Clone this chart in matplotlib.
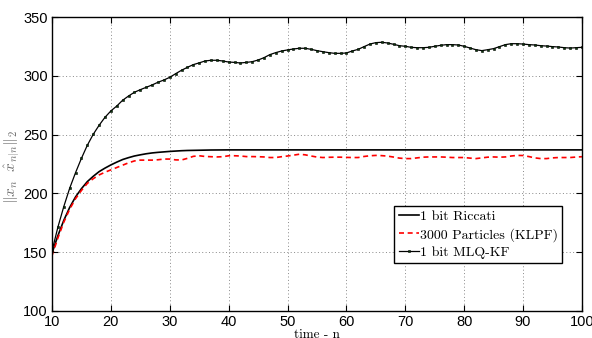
import numpy as np
import matplotlib
matplotlib.use("Agg")
import matplotlib.pyplot as plt

# ---- data ----
n_steps = list(range(10, 101))

mlq_kf = [
    151.0, 171.2, 188.7, 204.3, 217.6, 229.8, 240.9, 250.2, 257.9, 264.7,   # 10-19
    270.1, 274.3, 279.2, 282.8, 286.0, 288.2, 290.2, 292.2, 294.5, 296.4,   # 20-29
    298.7, 301.8, 304.7, 307.2, 309.5, 311.0, 312.6, 313.2, 313.2, 312.6,   # 30-39
    311.7, 311.4, 310.9, 311.4, 312.0, 313.4, 315.4, 318.0, 319.7, 321.1,   # 40-49
    322.0, 322.8, 323.4, 323.4, 322.5, 321.4, 320.5, 319.7, 319.1, 319.1,   # 50-59
    319.4, 321.1, 322.5, 324.8, 327.0, 328.2, 328.5, 327.9, 326.8, 325.6,   # 60-69
    325.1, 324.2, 323.9, 323.9, 324.2, 325.1, 325.9, 326.5, 326.5, 326.2,   # 70-79
    325.1, 323.6, 322.2, 321.4, 322.2, 323.1, 324.8, 326.5, 327.3, 327.3,   # 80-89
    327.0, 326.5, 326.2, 325.6, 325.3, 324.8, 324.5, 323.9, 323.6, 323.9,   # 90-99
    324.2,                                                                  # 100
]

klpf = [
    147.0, 162.0, 175.5, 186.5, 195.5, 202.5, 208.5, 212.5, 215.7, 218.0,   # 10-19
    220.0, 222.0, 224.0, 226.0, 227.6, 228.3, 228.3, 228.3, 228.6, 229.2,   # 20-29
    229.2, 228.5, 228.4, 229.8, 231.5, 232.0, 231.4, 231.2, 231.0, 231.2,   # 30-39
    232.0, 232.0, 231.8, 231.3, 231.3, 231.2, 231.0, 230.5, 230.5, 231.2,   # 40-49
    231.8, 232.5, 233.3, 232.8, 231.8, 230.9, 230.5, 230.7, 230.8, 230.8,   # 50-59
    230.6, 230.5, 230.5, 231.4, 232.0, 232.3, 232.1, 231.7, 230.9, 230.0,   # 60-69
    229.6, 229.6, 230.2, 230.8, 231.0, 231.0, 231.0, 230.8, 230.5, 230.5,   # 70-79
    230.5, 230.0, 229.6, 230.2, 230.8, 231.0, 230.8, 231.0, 231.8, 232.3,   # 80-89
    232.2, 231.3, 230.2, 229.6, 229.6, 230.2, 230.5, 230.5, 230.5, 230.9,   # 90-99
    231.2,                                                                  # 100
]

riccati_n = [10, 11, 12, 13, 14, 15, 16, 17, 18, 19, 20, 21, 22, 23, 24, 25,
             26, 27, 28, 29, 30, 31, 32, 33, 34, 35, 36, 37, 40, 50, 60, 70,
             80, 90, 100]
riccati = [149.0, 164.0, 177.0, 188.0, 197.0, 204.0, 210.0, 214.5, 218.5,
           221.5, 224.2, 226.6, 228.8, 230.4, 231.8, 232.8, 233.7, 234.4,
           234.9, 235.3, 235.7, 236.0, 236.3, 236.5, 236.6, 236.7, 236.8,
           236.9, 237.0, 237.0, 237.0, 237.0, 237.0, 237.0, 237.0]

x_ticks = [10, 20, 30, 40, 50, 60, 70, 80, 90, 100]
y_ticks = [100, 150, 200, 250, 300, 350]

labels = ["1 bit Riccati", "3000 Particles (KLPF)", "1 bit MLQ-KF"]

# ---- figure ----
plt.rcParams["font.family"] = ["Liberation Sans", "DejaVu Sans"]
plt.rcParams["mathtext.fontset"] = "cm"

fig = plt.figure(figsize=(5.92, 3.38), dpi=100)
ax = fig.add_axes([0.0878, 0.0799, 0.8952, 0.8698])

ax.plot(riccati_n, riccati, color="black", lw=1.2, label=labels[0])
ax.plot(n_steps, klpf, color="red", lw=1.2, linestyle=(0, (3, 2.2)),
        label=labels[1])
ax.plot(n_steps, mlq_kf, color="black", lw=0.9, marker="s", markersize=2.1,
        markerfacecolor="#0a3d0a", markeredgecolor="black",
        markeredgewidth=0.4, label=labels[2])

ax.set_xlim(10, 100)
ax.set_ylim(100, 350)
ax.set_xticks(x_ticks)
ax.set_yticks(y_ticks)
ax.tick_params(direction="in", length=4, width=0.8, labelsize=10.5,
               top=True, right=True, pad=3)
ax.grid(True, linestyle=(0, (1, 2.5)), color="#888888", linewidth=0.7)
for sp in ax.spines.values():
    sp.set_linewidth(1.0)

ax.set_xlabel("time - n", family="cmr10", fontsize=9.5, labelpad=0)
ax.set_ylabel(r"$\|x_n\ \ \hat{x}_{n|n}\|_2$", color="#6e6e6e",
              fontsize=11, labelpad=2)
ax.yaxis.set_label_coords(-0.056, 0.49)

leg = ax.legend(loc="lower right", bbox_to_anchor=(0.963, 0.162),
                prop={"family": "cmr10", "size": 10}, frameon=True,
                fancybox=False, framealpha=1, edgecolor="black",
                borderpad=0.3, labelspacing=0.35, handlelength=1.45,
                handletextpad=0.1, borderaxespad=0)
leg.get_frame().set_linewidth(1.0)

fig.savefig("out.png", dpi=100)
